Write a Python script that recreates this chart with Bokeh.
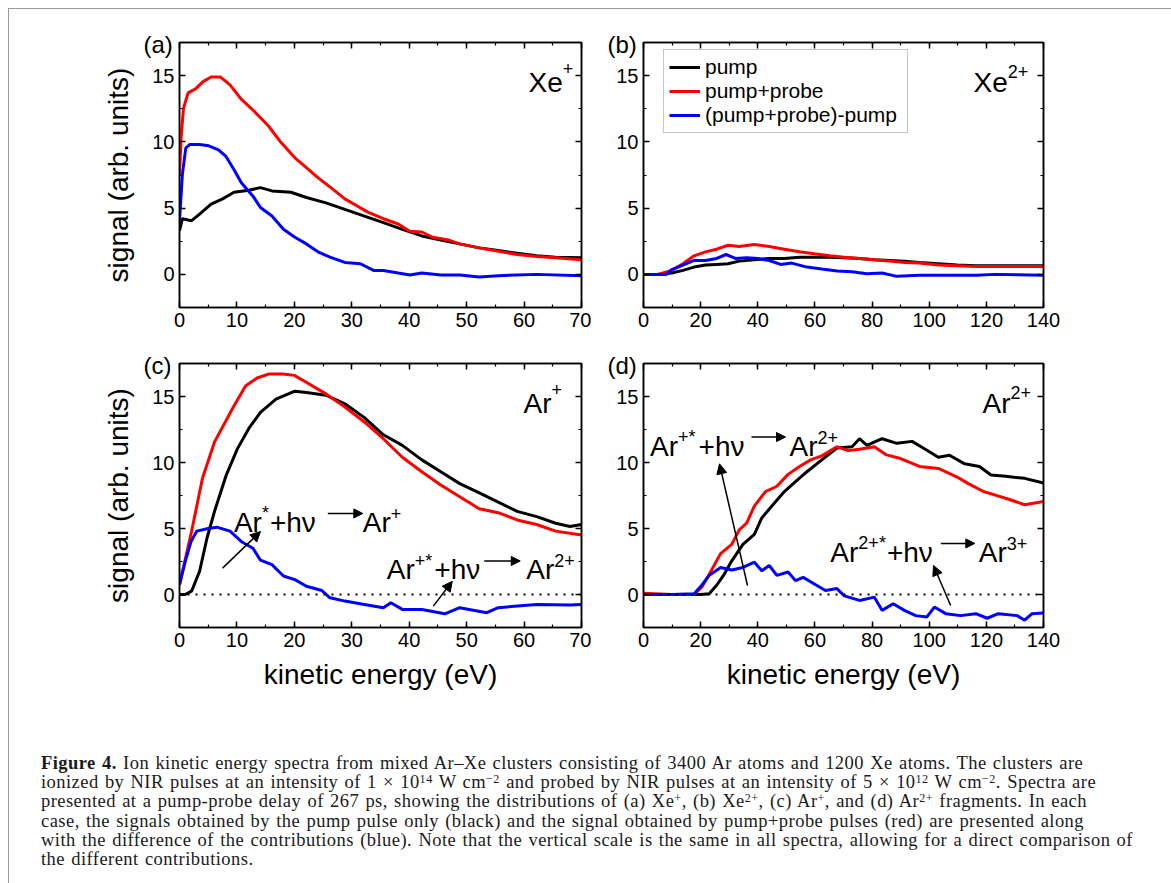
from bokeh.plotting import figure
from bokeh.models import (Label, Arrow, NormalHead, Span, Legend, LegendItem,
                          LinearAxis, FixedTicker, Range1d, Div)
from bokeh.layouts import row, column
from bokeh.embed import file_html
from bokeh.resources import INLINE

# ---------------- data ----------------
# (a) Xe+
a_pump_x = [0, 0.5, 1.5, 2.1, 3.5, 5.5, 7.5, 9.5, 12.1, 14.1, 16.1, 19.4, 22.1, 25.5, 28.8, 32.2,
            35.5, 38.8, 42.2, 45.5, 48.8, 52.2, 55.5, 58.8, 62.2, 65.5, 70]
a_pump_y = [3.3, 4.2, 4.1, 4.05, 4.55, 5.3, 5.7, 6.2, 6.35, 6.55, 6.3, 6.2, 5.8, 5.4, 4.9, 4.4,
            3.9, 3.4, 2.9, 2.6, 2.3, 2.0, 1.8, 1.6, 1.4, 1.3, 1.25]
a_pp_x = [0, 0.3, 0.7, 1.5, 2.8, 4.1, 5.5, 7.1, 8.8, 10.8, 12.8, 15.5, 17.5, 20.1, 22.1, 24.1, 26.8,
          28.8, 30.8, 32.8, 35.5, 38.1, 40.1, 42.2, 44.1, 46.8, 48.8, 52.2, 55.5, 58.8, 62.2, 65.5, 70]
a_pp_y = [7.5, 10.5, 12.55, 13.7, 14.0, 14.55, 14.9, 14.9, 14.3, 13.2, 12.4, 11.2, 10.05, 8.8, 8.05,
          7.3, 6.4, 5.7, 5.2, 4.7, 4.2, 3.8, 3.25, 3.2, 2.8, 2.6, 2.3, 2.0, 1.75, 1.5, 1.35, 1.25, 1.1]
a_diff_x = [0, 0.5, 1.1, 1.8, 3.5, 5.1, 6.8, 8.1, 9.5, 10.8, 12.8, 14.1, 16.1, 18.1, 20.1, 22.1, 24.1,
            26.2, 28.8, 31.5, 33.8, 35.5, 38.1, 40.1, 42.2, 45.5, 48.8, 52.2, 55.5, 62.2, 70]
a_diff_y = [4.0, 7.55, 9.55, 9.8, 9.8, 9.7, 9.4, 8.9, 7.9, 6.9, 5.9, 5.05, 4.4, 3.4, 2.8, 2.3, 1.7,
            1.3, 0.9, 0.8, 0.3, 0.3, 0.1, -0.05, 0.1, -0.05, -0.05, -0.2, -0.1, 0.0, -0.1]

# (b) Xe2+
b_x = [0, 5, 9.9, 13.8, 17.7, 21.7, 25.6, 29.6, 33.5, 38.8, 44, 49.3, 54.6, 59.8, 65.1, 70.3, 75.6,
       80.8, 86.1, 91.4, 96.6, 103.2, 109.8, 116.3, 122.9, 129.5, 140]
b_pump_y = [0, 0, 0.1, 0.3, 0.55, 0.7, 0.75, 0.8, 1.0, 1.1, 1.2, 1.2, 1.3, 1.3, 1.3, 1.25, 1.2, 1.1,
            1.05, 1.0, 0.9, 0.8, 0.7, 0.65, 0.65, 0.65, 0.65]
b_pp_y = [0, 0, 0.3, 0.8, 1.4, 1.7, 1.9, 2.2, 2.1, 2.25, 2.1, 1.9, 1.7, 1.55, 1.4, 1.3, 1.2, 1.1,
          1.0, 0.9, 0.85, 0.7, 0.65, 0.6, 0.6, 0.6, 0.6]
b_diff_x = [0, 5, 8, 9.9, 13.8, 17.7, 21.7, 25.6, 28.9, 32.2, 36.1, 40.1, 44, 48, 51.9, 57.2, 62.4,
            67.8, 73, 78.2, 83.5, 88.7, 96.6, 104.5, 116.3, 122.9, 140]
b_diff_y = [0, 0, 0, 0.35, 0.7, 1.05, 1.05, 1.2, 1.5, 1.2, 1.25, 1.2, 1.05, 0.75, 0.85, 0.55, 0.4,
            0.25, 0.2, 0.05, 0.1, -0.15, -0.07, -0.07, -0.07, 0.0, -0.07]

# (c) Ar+
c_pump_x = [0, 1, 2.1, 3.5, 4.8, 6.1, 8.1, 10.1, 12.1, 14.1, 16.8, 20.1, 22.1, 25.5, 28.8, 32.2, 35.5,
            38.8, 42.2, 45.5, 48.8, 52.2, 55.5, 58.8, 62.2, 65.5, 68, 70]
c_pump_y = [0, 0, 0.25, 1.76, 4.3, 6.3, 9.0, 11.05, 12.6, 13.8, 14.8, 15.4, 15.3, 15.1, 14.45, 13.4,
            12.1, 11.3, 10.2, 9.3, 8.4, 7.7, 7.0, 6.3, 5.9, 5.4, 5.15, 5.3]
c_pp_x = [0, 2.1, 4, 6.1, 9.5, 11.5, 13.5, 15.5, 18, 20, 22, 25.5, 28.8, 32.2, 35.5, 38.8, 42.2, 45.5,
          48.8, 52.2, 55.5, 58.8, 62.2, 65.5, 70]
c_pp_y = [0.75, 4.77, 8.8, 11.56, 14.3, 15.8, 16.4, 16.7, 16.7, 16.6, 16.1, 15.2, 14.2, 13.07, 11.8,
          10.4, 9.3, 8.3, 7.4, 6.5, 6.2, 5.65, 5.3, 4.8, 4.5]
c_diff_x = [0, 1, 2, 3, 5, 6.5, 8.8, 10.8, 12.8, 14.1, 16.1, 18.1, 20.1, 22.1, 24.8, 26.2, 28.8, 32.2,
            35.5, 36.8, 38.8, 42.2, 46.2, 48.8, 53.5, 55.5, 62.2, 68, 70]
c_diff_y = [0.75, 2.5, 4.0, 4.8, 5.0, 5.1, 4.8, 4.0, 3.5, 2.6, 2.26, 1.4, 1.13, 0.63, 0.3, -0.25, -0.5,
            -0.75, -1.0, -0.63, -1.13, -1.13, -1.46, -1.0, -1.38, -1.0, -0.75, -0.8, -0.75]

# (d) Ar2+
d_pump_x = [0, 10, 20, 23, 25.6, 28.3, 30.9, 34.8, 38.8, 41.4, 45.3, 49.3, 53.2, 57.2, 62.4, 67.7, 73,
            75.6, 78.2, 83.5, 88.7, 94, 97.9, 103.2, 107.1, 112.4, 117.6, 121.6, 126.8, 133.4, 140]
d_pump_y = [0, 0, 0, 0.05, 0.7, 1.55, 2.55, 3.8, 4.55, 5.8, 6.8, 7.8, 8.55, 9.3, 10.2, 11.1, 11.2,
            11.8, 11.3, 11.8, 11.45, 11.6, 11.1, 10.4, 10.55, 9.9, 9.7, 9.05, 8.95, 8.8, 8.45]
d_pp_x = [0, 10, 17.7, 20.4, 23.7, 27, 30.9, 33.5, 36.1, 38.8, 42.7, 46.7, 50.6, 54.6, 58.5, 62.4,
          67.7, 71.6, 75.6, 80.8, 84.8, 90, 96.6, 103.2, 109.8, 113.7, 119, 122.9, 128.1, 133.4, 140]
d_pp_y = [0.1, 0, 0, 0.55, 1.8, 3.1, 3.8, 4.9, 5.4, 6.7, 7.8, 8.2, 9.1, 9.7, 10.2, 10.5, 11.2, 10.9,
          11.0, 11.2, 10.6, 10.3, 9.7, 9.55, 8.9, 8.4, 7.8, 7.55, 7.2, 6.8, 7.05]
d_diff_x = [0, 10, 17.7, 20.4, 23, 27, 30.9, 34.8, 38.8, 41.4, 44, 46.7, 50.6, 53.2, 55.9, 59.8, 63.7,
            67.7, 70.3, 75.6, 80.8, 83.5, 87.4, 91.3, 95.3, 99.2, 101.8, 105.8, 111, 116.3, 120.3,
            124.2, 130.8, 133.4, 136, 140]
d_diff_y = [0, 0, 0.05, 0.7, 1.45, 2.05, 1.85, 2.05, 2.45, 1.8, 2.2, 1.45, 1.7, 1.05, 1.3, 0.8, 0.3,
            0.45, -0.1, -0.45, -0.2, -1.2, -0.7, -1.2, -1.6, -1.7, -0.95, -1.45, -1.6, -1.45, -1.8,
            -1.45, -1.6, -1.95, -1.45, -1.4]

y_major = [0, 5, 10, 15]
y_minor = [-2.5, 0, 2.5, 5, 7.5, 10, 12.5, 15, 17.5]
series_labels = ["pump", "pump+probe", "(pump+probe)-pump"]
series_colors = ["#000000", "#ff0000", "#0000ff"]
panel_letters = ["(a)", "(b)", "(c)", "(d)"]

# ---------------- helpers ----------------
FONT = "Liberation Sans"
W = {'A': .667, 'r': .333, 'X': .667, 'e': .556, '+': .584, '*': .389, 'h': .556,
     'ν': .5, '2': .556, '3': .556, ' ': .278, '(': .333, ')': .333, 'a': .556,
     'b': .556, 'c': .5, 'd': .556}


def twidth(s, size):
    return sum(W.get(ch, 0.55) for ch in s) * size


def style_axis(ax, labels=True):
    ax.axis_line_color = "black"
    ax.axis_line_width = 1.5
    ax.major_tick_in = 6
    ax.major_tick_out = 0
    ax.minor_tick_in = 3
    ax.minor_tick_out = 0
    ax.major_tick_line_color = "black"
    ax.minor_tick_line_color = "black"
    ax.major_tick_line_width = 1.5
    ax.minor_tick_line_width = 1.2
    ax.major_label_text_font = FONT
    ax.axis_label_text_font = FONT
    ax.axis_label_text_font_style = "normal"
    ax.axis_label_text_font_size = "28px"
    ax.axis_label_text_color = "black"
    if labels:
        ax.major_label_text_color = "black"
        ax.major_label_text_font_size = "20px"
        ax.major_label_standoff = 5
    else:
        # mirror axis: ticks only, labels not drawn
        ax.major_label_text_color = None
        ax.major_label_text_font_size = "2px"
        ax.major_label_standoff = 0


def make_panel(xmax, xstep, fw, fh, bl, br, bt, bb, letter, xlabel=None, ylabel=None):
    p = figure(frame_width=fw, frame_height=fh, x_range=Range1d(0, xmax),
               y_range=Range1d(-2.5, 17.5), x_axis_location=None, y_axis_location=None,
               output_backend="svg", toolbar_location=None,
               min_border_left=bl, min_border_right=br, min_border_top=bt, min_border_bottom=bb,
               background_fill_color="white", border_fill_color="white")
    p.xgrid.grid_line_color = None
    p.ygrid.grid_line_color = None
    p.outline_line_color = "black"
    p.outline_line_width = 1.5
    # panel letter as title, pulled left of the frame and down to its top edge
    p.title.text = letter
    p.title.align = "left"
    p.title.offset = -36
    p.title.standoff = -30
    p.title.text_font = FONT
    p.title.text_font_size = "24px"
    p.title.text_font_style = "normal"
    p.title.text_color = "black"
    xt = FixedTicker(ticks=list(range(0, xmax + 1, xstep)),
                     minor_ticks=[v / 2 for v in range(0, 2 * xmax + 1, xstep)])
    yt = FixedTicker(ticks=y_major, minor_ticks=y_minor)
    bx = LinearAxis(ticker=xt)
    style_axis(bx, True)
    if xlabel:
        bx.axis_label = xlabel
        bx.axis_label_standoff = 9
    p.add_layout(bx, "below")
    tx = LinearAxis(ticker=xt)
    style_axis(tx, False)
    p.add_layout(tx, "above")
    ly = LinearAxis(ticker=yt)
    style_axis(ly, True)
    if ylabel:
        ly.axis_label = ylabel
        ly.axis_label_standoff = 15
    p.add_layout(ly, "left")
    ry = LinearAxis(ticker=yt)
    style_axis(ry, False)
    p.add_layout(ry, "right")
    return p


def label(p, x, y, s, dx=0, dy=0, size=28, align="left"):
    p.add_layout(Label(x=x, y=y, x_offset=dx, y_offset=dy, text=s, text_font=FONT,
                       text_font_size=f"{size}px", text_align=align,
                       text_baseline="alphabetic", text_color="black"))


def rich(p, x, y, parts, xs, ys, start=0, size=28, sup=18, raise_px=9):
    """parts: ('n', text) normal, ('s', text) superscript, ('g', px) gap, ('a', px) arrow."""
    off = start
    for kind, v in parts:
        if kind == 'n':
            label(p, x, y, v, dx=off, size=size)
            off += twidth(v, size)
        elif kind == 's':
            label(p, x, y, v, dx=off, dy=raise_px, size=sup)
            off += twidth(v, sup)
        elif kind == 'g':
            off += v
        elif kind == 'a':
            yy = y + 9 / ys
            p.add_layout(Arrow(x_start=x + off / xs, y_start=yy, x_end=x + (off + v) / xs, y_end=yy,
                               line_color="black", line_width=1.5,
                               end=NormalHead(size=9, fill_color="black", line_color="black")))
            off += v


def pointer(p, x0, y0, x1, y1):
    p.add_layout(Arrow(x_start=x0, y_start=y0, x_end=x1, y_end=y1, line_color="black",
                       line_width=1.5,
                       end=NormalHead(size=10, fill_color="black", line_color="black")))


def zero_line(p):
    p.add_layout(Span(location=0, dimension="width", line_color="black",
                      line_dash="2 6", line_width=2))


LW = 3
YLAB = "signal (arb. units)"
XLAB = "kinetic energy (eV)"

# ---------------- panels ----------------
fa = make_panel(70, 10, 402, 265, 170, 10, 33, 38, panel_letters[0], ylabel=YLAB)
fb = make_panel(140, 20, 400, 265, 52, 122, 33, 38, panel_letters[1])
fc = make_panel(70, 10, 402, 264, 170, 10, 18, 75, panel_letters[2], xlabel=XLAB, ylabel=YLAB)
fd = make_panel(140, 20, 400, 264, 52, 122, 18, 75, panel_letters[3], xlabel=XLAB)

fa.line(a_pump_x, a_pump_y, color=series_colors[0], line_width=LW)
fa.line(a_pp_x, a_pp_y, color=series_colors[1], line_width=LW)
fa.line(a_diff_x, a_diff_y, color=series_colors[2], line_width=LW)

rb0 = fb.line(b_x, b_pump_y, color=series_colors[0], line_width=LW)
rb1 = fb.line(b_x, b_pp_y, color=series_colors[1], line_width=LW)
rb2 = fb.line(b_diff_x, b_diff_y, color=series_colors[2], line_width=LW)

zero_line(fc)
fc.line(c_pump_x, c_pump_y, color=series_colors[0], line_width=LW)
fc.line(c_pp_x, c_pp_y, color=series_colors[1], line_width=LW)
fc.line(c_diff_x, c_diff_y, color=series_colors[2], line_width=LW)

zero_line(fd)
fd.line(d_pump_x, d_pump_y, color=series_colors[0], line_width=LW)
fd.line(d_pp_x, d_pp_y, color=series_colors[1], line_width=LW)
fd.line(d_diff_x, d_diff_y, color=series_colors[2], line_width=LW)

legend = Legend(items=[LegendItem(label=series_labels[i], renderers=[r])
                       for i, r in enumerate([rb0, rb1, rb2])],
                location=(20, 174), label_text_font=FONT, label_text_font_size="21px",
                label_text_color="black", glyph_width=31, glyph_height=20, label_standoff=5,
                label_width=197, spacing=0, padding=5, margin=0, border_line_color="#8a8a8a",
                border_line_width=1, background_fill_color="white", background_fill_alpha=1)
fb.add_layout(legend)

# px per data unit
XS_70 = 402 / 70
XS_140 = 400 / 140
YS = 265 / 20

# ion labels
rich(fa, 0, 14.5, [('n', "Xe"), ('s', "+")], XS_70, YS, start=349, raise_px=14)
rich(fb, 0, 14.5, [('n', "Xe"), ('s', "2+")], XS_140, YS, start=330, raise_px=11)
rich(fc, 0, 14.5, [('n', "Ar"), ('s', "+")], XS_70, YS, start=344, raise_px=14)
rich(fd, 0, 14.5, [('n', "Ar"), ('s', "2+")], XS_140, YS, start=339, raise_px=11)

# process annotations
rich(fc, 9.47, 5.46, [('n', "Ar"), ('s', "*"), ('g', 1), ('n', "+hν"), ('g', 12), ('a', 35),
                      ('n', "Ar"), ('s', "+")], XS_70, YS)
rich(fc, 36.1, 1.86, [('n', "Ar"), ('s', "+*"), ('g', 2), ('n', "+hν"), ('g', 4), ('a', 36),
                      ('g', 6), ('n', "Ar"), ('s', "2+")], XS_70, YS)
rich(fd, 2.3, 11.25, [('n', "Ar"), ('s', "+*"), ('g', 3), ('n', "+hν"), ('g', 7), ('a', 34),
                      ('g', 4), ('n', "Ar"), ('s', "2+")], XS_140, YS)
rich(fd, 65.4, 3.19, [('n', "Ar"), ('s', "2+*"), ('g', 1), ('n', "+hν"), ('g', 8), ('a', 34),
                      ('g', 4), ('n', "Ar"), ('s', "3+")], XS_140, YS)

pointer(fc, 7.5, 2.0, 14.1, 4.77)
pointer(fc, 44.2, -0.88, 47.5, 1.0)
pointer(fd, 36.4, 0.68, 26.6, 9.9)
pointer(fd, 107.5, -0.83, 101.5, 2.2)

# ---------------- caption ----------------
S = '<sup style="font-size:0.66em;line-height:0;vertical-align:0.45em">'
cap_lines = [
    "<b>Figure 4.</b> Ion kinetic energy spectra from mixed Ar–Xe clusters consisting of 3400 Ar atoms and 1200 Xe atoms. The clusters are",
    f"ionized by NIR pulses at an intensity of 1 × 10{S}14</sup> W cm{S}−2</sup> and probed by NIR pulses at an intensity of 5 × 10{S}12</sup> W cm{S}−2</sup>. Spectra are",
    f"presented at a pump-probe delay of 267 ps, showing the distributions of (a) Xe{S}+</sup>, (b) Xe{S}2+</sup>, (c) Ar{S}+</sup>, and (d) Ar{S}2+</sup> fragments. In each",
    "case, the signals obtained by the pump pulse only (black) and the signal obtained by pump+probe pulses (red) are presented along",
    "with the difference of the contributions (blue). Note that the vertical scale is the same in all spectra, allowing for a direct comparison of",
    "the different contributions.",
]
cap_html = ('<div style="font-family:\'Liberation Serif\',serif;font-size:18.5px;line-height:19.2px;'
            'letter-spacing:0.45px;word-spacing:1.2px;color:#1a1a1a;white-space:nowrap;'
            'margin:0;padding:47px 0 0 27px;">'
            + "<br>".join(cap_lines) + "</div>")
cap = Div(text=cap_html, width=1156, height=172)

layout = column(row(fa, fb), row(fc, fd), cap, margin=(8, 0, 0, 8),
                styles={"border": "1px solid #9a9a9a", "background-color": "white"})

open("out.html", "w").write(file_html(layout, INLINE))
